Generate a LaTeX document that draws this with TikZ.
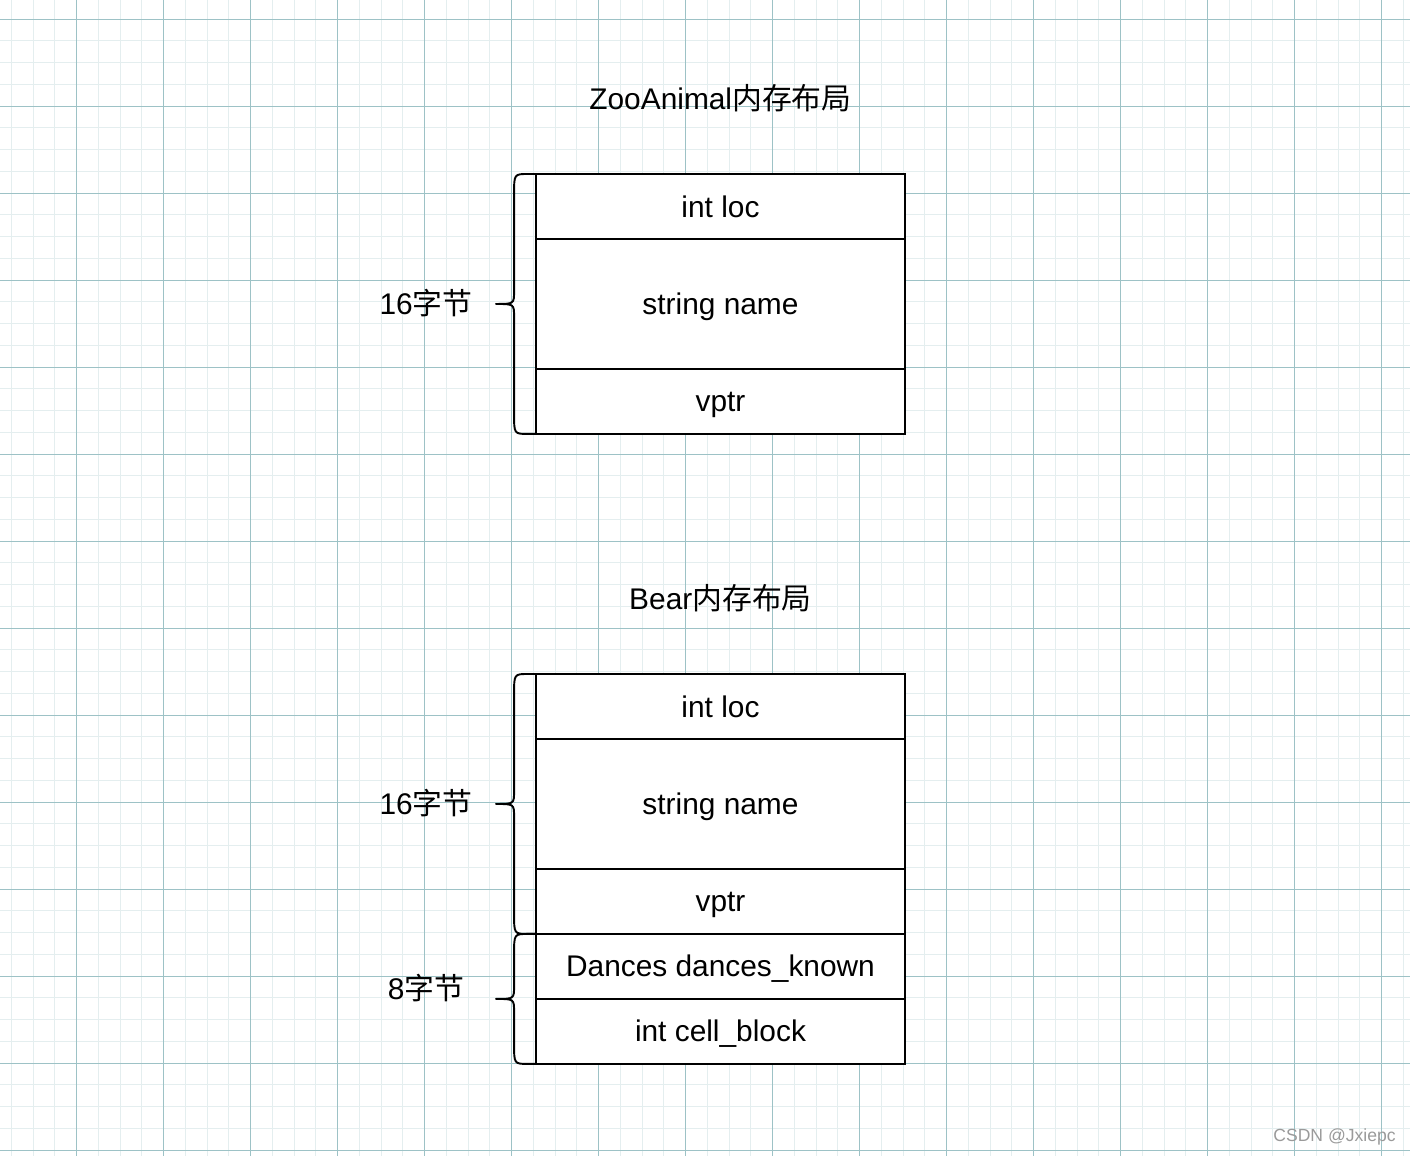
\documentclass[tikz,border=0pt]{standalone}
\usepackage{fontspec}
\setmainfont{Liberation Sans}
\newfontfamily\cjk{Noto Sans CJK SC}
\usepackage{tikz}
\usetikzlibrary{positioning, calc}
\definecolor{gridmajor}{HTML}{9DC2C6}
\definecolor{gridminor}{HTML}{E4EEEF}
\definecolor{markgray}{HTML}{9A9A9A}

% curly brace left of a block of cells, tip named #3
\newcommand{\cellbrace}[3]{%
  \draw[brace] let \p1=(#1), \p2=(#2), \p3=($(#1)!0.5!(#2)$) in
    (\p1) -- (\x1-4.5pt,\y1)
    .. controls (\x1-12.5pt,\y1) .. (\x1-12.5pt,\y1-11.5pt)
    -- (\x1-12.5pt,\y3+7.5pt)
    .. controls (\x1-12.5pt,\y3) .. (\x1-22.8pt,\y3) coordinate (#3)
    .. controls (\x1-12.5pt,\y3) .. (\x1-12.5pt,\y3-7.5pt)
    -- (\x1-12.5pt,\y2+11.5pt)
    .. controls (\x1-12.5pt,\y2) .. (\x1-4.5pt,\y2) -- (\p2);}

\begin{document}
\begin{tikzpicture}[
    x=0.02cm, y=0.02cm,
    cell/.style={rectangle, draw, fill=white, line width=1.1pt, inner sep=0pt, outer sep=0pt, minimum width=7.38cm, minimum height=1.3cm, text height=1.2em, text depth=0pt, font=\fontsize{17}{20}\selectfont},
    tallcell/.style={cell, minimum height=2.6cm},
    title/.style={inner sep=0pt, text height=1.2em, text depth=0pt, font=\fontsize{17}{20}\selectfont},
    sizelabel/.style={title},
    brace/.style={draw, line width=1.1pt, line join=round},
    gridline/.style={line width=0.45pt}
]
\useasboundingbox (0,0) rectangle (1410,1156);
\fill[white] (0,0) rectangle (1410,1156);

% grid
\foreach \i in {0,...,64}
  \draw[gridline, gridminor] ({11.25+21.75*\i},0) -- ++(0,1156);
\foreach \i in {1,...,53}
  \draw[gridline, gridminor] (0,{1158.75-21.75*\i}) -- ++(1410,0);
\foreach \i in {0,...,15}
  \draw[gridline, gridmajor] ({76.5+87*\i},0) -- ++(0,1156);
\foreach \i in {0,...,13}
  \draw[gridline, gridmajor] (0,{1137-87*\i}) -- ++(1410,0);

% ZooAnimal
\node[cell] (zloc) at (720.5,949.5) {int loc};
\node[tallcell, below=0pt of zloc] (zname) {string name};
\node[cell, below=0pt of zname] (zvptr) {vptr};
\node[title, above=1.28cm of zloc] (ztitle) {ZooAnimal{\cjk 内存布局}};
\cellbrace{zloc.north west}{zvptr.south west}{ztip}
\node[sizelabel] (zsize) at ($(ztip)+(-70,0)$) {16{\cjk 字节}};

% Bear
\node[cell] (bloc) at (720.5,449.5) {int loc};
\node[tallcell, below=0pt of bloc] (bname) {string name};
\node[cell, below=0pt of bname] (bvptr) {vptr};
\node[cell, below=0pt of bvptr] (bdance) {Dances dances\_known};
\node[cell, below=0pt of bdance] (bcell) {int cell\_block};
\node[title, above=1.28cm of bloc] (btitle) {Bear{\cjk 内存布局}};
\cellbrace{bloc.north west}{bvptr.south west}{btip}
\cellbrace{bdance.north west}{bcell.south west}{bsubtip}
\node[sizelabel] (bsize) at ($(btip)+(-70,0)$) {16{\cjk 字节}};
\node[sizelabel] (bsubsize) at ($(bsubtip)+(-70,10)$) {8{\cjk 字节}};

\node[anchor=east, inner sep=0pt, text=markgray, font=\fontsize{10}{12}\selectfont] (mark) at (1396,19) {CSDN @Jxiepc};
\end{tikzpicture}
\end{document}
